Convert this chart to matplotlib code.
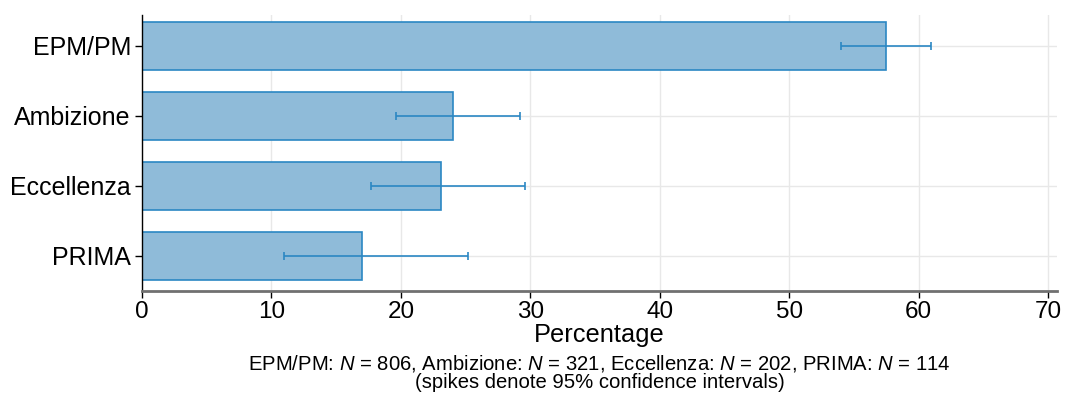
import matplotlib
matplotlib.use("Agg")
import matplotlib.pyplot as plt
import numpy as np

categories = ["EPM/PM", "Ambizione", "Eccellenza", "PRIMA"]
percent = [57.5, 24.0, 23.1, 17.0]
ci_low = [54.0, 19.6, 17.7, 11.0]
ci_high = [61.0, 29.2, 29.6, 25.2]
x_ticks = [0, 10, 20, 30, 40, 50, 60, 70]

plt.rcParams["font.family"] = ["Liberation Sans", "DejaVu Sans"]
plt.rcParams["mathtext.fontset"] = "custom"
plt.rcParams["mathtext.it"] = "Liberation Sans:italic"
plt.rcParams["mathtext.rm"] = "Liberation Sans"

fig = plt.figure(figsize=(10.65, 3.94), dpi=100)
left, right, top, bottom = 142, 1057, 15, 291
ax = fig.add_axes([left / 1065, 1 - bottom / 394, (right - left) / 1065, (bottom - top) / 394])

y = np.arange(len(categories))
edge = "#2b87c3"
ax.barh(y, percent, height=0.69, color="#8fbbd9", edgecolor=edge, linewidth=1.2, zorder=2)
xerr = [np.array(percent) - np.array(ci_low), np.array(ci_high) - np.array(percent)]
ax.errorbar(percent, y, xerr=xerr, fmt="none", ecolor=edge, elinewidth=1.2,
            capsize=3, capthick=1.2, zorder=3)

ax.set_xlim(0, 70.7)
ax.set_ylim(3.5, -0.44)
ax.set_xticks(x_ticks)
ax.set_yticks(y)
ax.set_yticklabels(categories)
ax.tick_params(axis="x", labelsize=17.5, colors="black", length=5, width=1, pad=2)
ax.tick_params(axis="y", labelsize=18, colors="black", length=5, width=1, pad=3)
ax.grid(True, color="#e8e8e8", linewidth=1, zorder=0)
ax.set_axisbelow(True)

for s in ["top", "right"]:
    ax.spines[s].set_visible(False)
ax.spines["left"].set_color("black")
ax.spines["left"].set_linewidth(1)
ax.spines["bottom"].set_color("#707070")
ax.spines["bottom"].set_linewidth(2)

ax.set_xlabel("Percentage", fontsize=18.3, labelpad=0)

cx = (left + right) / 2 / 1065
fig.text(cx, 1 - 364 / 394,
         "EPM/PM: $N$ = 806, Ambizione: $N$ = 321, Eccellenza: $N$ = 202, PRIMA: $N$ = 114",
         ha="center", va="center", fontsize=14.6)
fig.text(cx, 1 - 383 / 394,
         "(spikes denote 95% confidence intervals)",
         ha="center", va="center", fontsize=14.6)

fig.savefig("out.png", dpi=100, facecolor="white")
